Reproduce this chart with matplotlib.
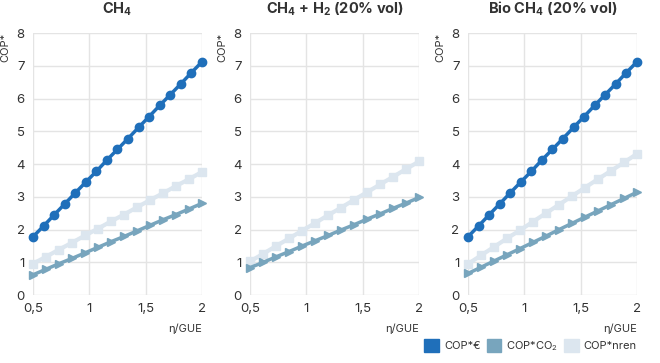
import matplotlib
matplotlib.use('Agg')
import matplotlib.pyplot as plt
from matplotlib.patches import Patch

plt.rcParams['font.family'] = ['Inter', 'DejaVu Sans']
plt.rcParams['mathtext.fontset'] = 'custom'
plt.rcParams['mathtext.rm'] = 'Inter'

# x positions (eta/GUE)
x_eur = [0.5, 0.594, 0.688, 0.781, 0.875, 0.969, 1.063, 1.156, 1.25,
         1.344, 1.438, 1.531, 1.625, 1.719, 1.813, 1.906, 2.0]
x_oth = [0.5, 0.615, 0.731, 0.846, 0.962, 1.077, 1.192, 1.308, 1.423,
         1.538, 1.654, 1.769, 1.885, 2.0]

titles = [r'CH$_\mathregular{4}$', r'CH$_\mathregular{4}$ + H$_\mathregular{2}$ (20% vol)',
          r'Bio CH$_\mathregular{4}$ (20% vol)']

# COP*€ (no series in panel 2)
eur_ch4 = [1.78, 2.11, 2.45, 2.78, 3.12, 3.45, 3.78, 4.12, 4.45, 4.78, 5.12,
           5.45, 5.79, 6.12, 6.45, 6.79, 7.12]
eur_bio = [1.78, 2.11, 2.45, 2.78, 3.12, 3.45, 3.78, 4.12, 4.45, 4.78, 5.12,
           5.45, 5.79, 6.12, 6.45, 6.79, 7.12]

# COP*CO2
co2_ch4 = [0.62, 0.79, 0.96, 1.12, 1.29, 1.46, 1.63, 1.79, 1.96, 2.13, 2.30,
           2.46, 2.63, 2.80]
co2_h2 = [0.84, 1.00, 1.17, 1.33, 1.50, 1.66, 1.82, 1.99, 2.15, 2.32, 2.48,
          2.65, 2.81, 2.98]
co2_bio = [0.66, 0.85, 1.04, 1.23, 1.42, 1.61, 1.80, 2.00, 2.19, 2.38, 2.57,
           2.76, 2.95, 3.14]

# COP*nren
nren_ch4 = [0.96, 1.17, 1.39, 1.60, 1.82, 2.03, 2.25, 2.46, 2.68, 2.90, 3.11,
            3.33, 3.54, 3.76]
nren_h2 = [1.03, 1.26, 1.50, 1.73, 1.97, 2.20, 2.44, 2.67, 2.91, 3.14, 3.38,
           3.61, 3.85, 4.08]
nren_bio = [0.95, 1.21, 1.47, 1.73, 1.98, 2.24, 2.50, 2.76, 3.02, 3.28, 3.54,
            3.79, 4.05, 4.31]

eur = [eur_ch4, None, eur_bio]
co2 = [co2_ch4, co2_h2, co2_bio]
nren = [nren_ch4, nren_h2, nren_bio]

c_eur = '#1f6fba'
c_co2 = '#78a5bd'
c_nren = '#dce6ef'
txt = '#333333'

fig = plt.figure(figsize=(6.6, 3.63), dpi=100)
lefts = [0.05, 0.379, 0.709]

for i in range(3):
    ax = fig.add_axes([lefts[i], 0.187, 0.256, 0.722])
    ax.plot(x_oth, nren[i], color=c_nren, lw=3, marker='s', ms=5.8, clip_on=False, zorder=3)
    ax.plot(x_oth, co2[i], color=c_co2, lw=2.5, marker='>', ms=5.8, clip_on=False, zorder=4)
    if eur[i] is not None:
        ax.plot(x_eur, eur[i], color=c_eur, lw=2.5, marker='o', ms=6, clip_on=False, zorder=5)
    ax.set_xlim(0.5, 2)
    ax.set_ylim(0, 8)
    ax.set_xticks([0.5, 1, 1.5, 2])
    ax.set_xticklabels(['0,5', '1', '1,5', '2'])
    ax.set_yticks(range(9))
    ax.grid(True, color='#e4e4e4', lw=1)
    ax.set_axisbelow(True)
    for s in ax.spines.values():
        s.set_visible(False)
    ax.tick_params(length=0, labelsize=9.5, colors=txt, pad=6)
    ax.set_title(titles[i], fontsize=10.5, fontweight='bold', color=txt, pad=14)
    ax.set_ylabel('COP*', loc='top', fontsize=8, color=txt, labelpad=4)
    ax.set_xlabel('η/GUE', loc='right', fontsize=8, color=txt, labelpad=6)

handles = [Patch(color=c_eur, label='COP*€'),
           Patch(color=c_co2, label=r'COP*CO$_\mathregular{2}$'),
           Patch(color=c_nren, label='COP*nren')]
fig.legend(handles=handles, loc='lower right', bbox_to_anchor=(0.98, 0.0), ncol=3,
           frameon=False, fontsize=8, handlelength=1.3, handleheight=1.3,
           columnspacing=0.55, handletextpad=0.45, labelcolor=txt)

fig.savefig('out.png', dpi=100)
